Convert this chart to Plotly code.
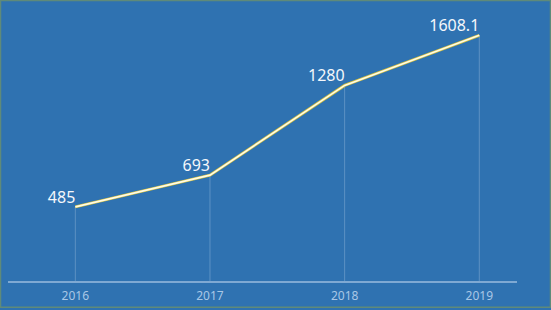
import plotly.graph_objects as go

years = ["2016", "2017", "2018", "2019"]
values = [485, 693, 1280, 1608.1]
labels = ["485", "693", "1280", "1608.1"]

W, H = 551, 310
ml, mr, mt, mb = 8, 34, 6, 27
pw, ph = W - ml - mr, H - mt - mb

fig = go.Figure()
# faint drop lines from each point down to the axis
fig.add_trace(go.Scatter(
    x=years, y=values, mode="markers",
    marker=dict(size=1, color="rgba(0,0,0,0)"),
    error_y=dict(type="data", symmetric=False, array=[0]*len(values),
                 arrayminus=values, color="rgba(200,220,240,0.3)",
                 thickness=1, width=0),
    hoverinfo="skip", showlegend=False))
# yellow outer line
fig.add_trace(go.Scatter(
    x=years, y=values, mode="lines",
    line=dict(color="#d9c23a", width=3), showlegend=False, hoverinfo="skip"))
# light inner line with labels
fig.add_trace(go.Scatter(
    x=years, y=values, mode="lines+text", text=labels,
    textposition="top left",
    textfont=dict(family="Noto Sans", size=16, color="#f4f7fb"),
    line=dict(color="#fffbe6", width=1.6), showlegend=False))

fig.update_xaxes(type="category", range=[-0.5, 3.28], showgrid=False,
                 showline=True, linecolor="#7fa9d3", linewidth=1.5,
                 ticks="outside", ticklen=3, tickcolor="rgba(0,0,0,0)",
                 zeroline=False,
                 tickfont=dict(family="Noto Sans", size=12, color="#a9c7e6"))
fig.update_yaxes(range=[0, 1800], visible=False, showgrid=False, zeroline=False)

# outer thin border
fig.add_shape(type="rect", xref="paper", yref="paper",
              x0=-(ml - 0.5) / pw, x1=1 + (mr - 0.5) / pw,
              y0=-(mb - 0.5) / ph, y1=1 + (mt - 0.5) / ph,
              line=dict(color="#5f8a7a", width=1.5), layer="above")

fig.update_layout(width=W, height=H, margin=dict(l=ml, r=mr, t=mt, b=mb),
                  paper_bgcolor="#2f72b1", plot_bgcolor="#2f72b1")
fig.write_html("out.html")
